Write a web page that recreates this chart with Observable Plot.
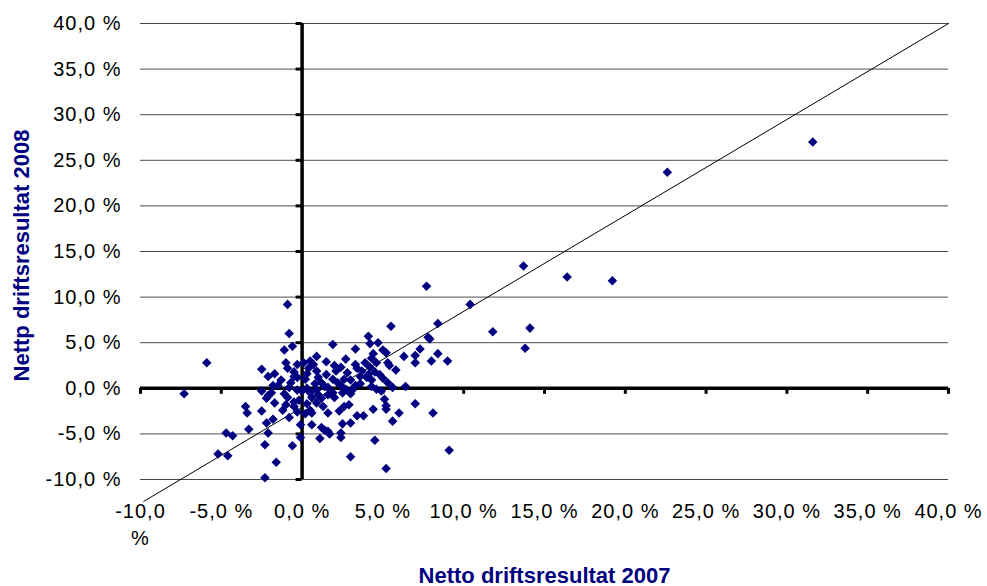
<!DOCTYPE html>
<html><head><meta charset="utf-8">
<script src="https://cdn.jsdelivr.net/npm/d3@7"></script>
<script src="https://cdn.jsdelivr.net/npm/@observablehq/plot@0.6"></script>
<style>
body{margin:0;background:#fff;}
#chart svg{display:block}
#chart g[aria-label="x-axis tick label"] text, #chart g[aria-label="y-axis tick label"] text{letter-spacing:1px}
</style></head><body><div id="chart"></div>
<script>
const netto2007 = [31.6,22.6,13.7,16.4,19.2,7.7,10.4,-0.9,11.8,14.1,13.8,-0.8,5.5,8.4,7.8,7.9,4.1,1.9,-1.1,-0.6,
-5.9,3.3,4.2,4.7,5.0,5.2,7.3,7.0,7.0,6.3,8.4,8.0,9.0,5.3,5.4,5.8,4.4,4.3,4.6,2.7,
2.4,0.9,0.1,0.7,0.4,0.9,-2.5,-1.0,-0.9,-0.5,-0.3,-2.1,-1.7,-1.3,-0.7,-0.5,0.2,0.3,1.0,1.5,
1.9,1.2,0.8,3.4,3.7,3.6,2.8,2.6,3.0,4.1,4.5,4.8,4.3,4.0,2.4,2.7,3.1,3.3,5.6,6.4,
4.6,4.9,-7.3,-2.1,-1.9,-2.2,-1.1,-0.9,-1.7,-0.5,-0.2,0.0,0.5,1.0,1.6,1.9,2.5,3.0,0.6,1.2,
2.0,-3.5,-3.4,-2.5,-1.2,0.5,0.6,1.6,2.3,2.6,2.9,3.4,3.8,4.4,5.2,5.1,5.2,7.0,8.1,6.0,
5.6,3.0,2.5,1.6,1.4,1.2,0.6,-0.1,-0.1,1.1,2.4,2.4,1.7,-0.8,-1.8,-2.2,-2.1,-3.3,-4.7,-4.3,
-5.2,-4.6,-2.3,-0.6,-1.6,-2.3,3.0,4.5,5.2,9.1,0.3,1.4,-0.3,0.9,1.6,3.6,2.2,-1.5,-0.8,-1.0,
0.3,0.9,-0.5,1.3,2.0,1.5,0.5,-0.3,3.9,3.3,4.2,2.1,5.0,5.3,4.3,-1.8,-2.5,0.2,-0.3];
const netto2008 = [27.0,23.7,13.4,12.2,11.8,11.2,9.2,9.2,6.2,6.6,4.4,6.0,6.8,7.1,5.6,5.4,5.7,4.8,4.2,4.6,
2.8,4.3,4.9,5.0,4.2,3.9,4.3,3.6,2.8,3.5,3.8,3.0,3.0,2.8,2.5,2.0,3.8,3.3,2.8,3.2,
2.3,3.5,2.8,2.6,2.2,1.9,2.1,2.8,2.2,1.8,1.2,1.3,1.6,0.9,0.6,1.3,1.0,1.6,1.2,1.5,
1.0,0.6,0.5,2.2,1.9,1.3,1.7,1.0,0.9,1.5,1.8,1.5,0.9,1.2,0.3,-0.1,-0.2,0.3,0.1,0.2,
-0.1,-0.3,-0.6,-0.8,-0.5,-1.1,-0.6,-1.0,-1.6,-1.5,-1.3,-0.3,-0.5,-0.7,-0.7,-0.5,-0.5,-0.6,-1.0,-1.1,
-1.0,-2.0,-2.7,-2.5,-2.4,-2.4,-2.7,-2.7,-2.5,-2.0,-1.8,-3.0,-3.0,-2.3,-2.3,-1.2,-1.9,-1.7,-2.7,-2.7,
-3.6,-3.8,-3.9,-4.7,-4.6,-4.3,-4.0,-4.0,-5.4,-5.5,-5.4,-4.9,-5.0,-3.2,-3.4,-3.8,-4.9,-4.5,-4.9,-5.2,
-7.2,-7.4,-6.2,-6.3,-8.1,-9.8,-7.5,-5.7,-8.8,-6.8,0.0,0.2,-0.2,-0.2,0.1,0.5,0.6,0.3,0.1,-1.8,
-1.7,-1.6,-2.0,-2.0,2.5,2.9,3.0,2.6,2.8,2.6,2.3,1.9,1.1,0.6,0.2,0.3,-0.3,-2.8,-2.6];
const xTicks = [-10,-5,0,5,10,15,20,25,30,35,40];
const yTicks = [-10,-5,0,5,10,15,20,25,30,35,40];
const diagX = [-9.8, 40];
const diagY = [-12.4, 40];
const xTitle = "Netto driftsresultat 2007";
const yTitle = "Nettp driftsresultat 2008";

const points = netto2007.map((x, i) => ({x, y: netto2008[i]}));
const diag = diagX.map((x, i) => ({x, y: diagY[i]}));
const pct = d => d.toFixed(1).replace(".", ",") + " %";
const fmtX = d => d === -10 ? "-10,0\n%" : pct(d);
const navy = "#000080";

const chart = Plot.plot({
  width: 987, height: 586,
  marginTop: 23, marginLeft: 140, marginRight: 39, marginBottom: 107,
  x: {domain: [-10, 40]},
  y: {domain: [-10, 40]},
  style: {fontFamily: "'Liberation Sans', Arial, sans-serif", fontSize: "20px", color: "#000", background: "#fff", overflow: "visible"},
  marks: [
    Plot.gridY(yTicks, {stroke: "#000", strokeOpacity: 0.7, strokeWidth: 1}),
    Plot.line(diag, {x: "x", y: "y", stroke: "#000", strokeWidth: 1}),
    Plot.ruleY([0], {stroke: "#000", strokeWidth: 3.5}),
    Plot.ruleX([0], {stroke: "#000", strokeWidth: 3.5}),
    Plot.ruleX(xTicks, {x: d => d, y1: 0, y2: 0, insetBottom: -6, stroke: "#000", strokeWidth: 3}),
    Plot.ruleY(yTicks, {y: d => d, x1: 0, x2: 0, insetLeft: -6, stroke: "#000", strokeWidth: 3}),
    Plot.dot(points, {x: "x", y: "y", symbol: "diamond2", r: 4.3, fill: navy, stroke: "none"}),
    Plot.axisX(xTicks, {anchor: "bottom", tickSize: 0, tickPadding: 19, tickFormat: fmtX, label: null, lineHeight: 1.35, fill: "#000"}),
    Plot.axisY(yTicks, {anchor: "left", tickSize: 0, tickPadding: 19, tickFormat: pct, label: null, fill: "#000"}),
    Plot.text([xTitle], {text: d => d, frameAnchor: "bottom", dy: 103, lineAnchor: "bottom", fontWeight: "bold", fontSize: 22, fill: navy}),
    Plot.text([yTitle], {text: d => d, frameAnchor: "left", dx: -127, dy: 4, rotate: -90, textAnchor: "middle", lineAnchor: "top", fontWeight: "bold", fontSize: 22, fill: navy})
  ]
});
document.getElementById("chart").appendChild(chart);
</script></body></html>
